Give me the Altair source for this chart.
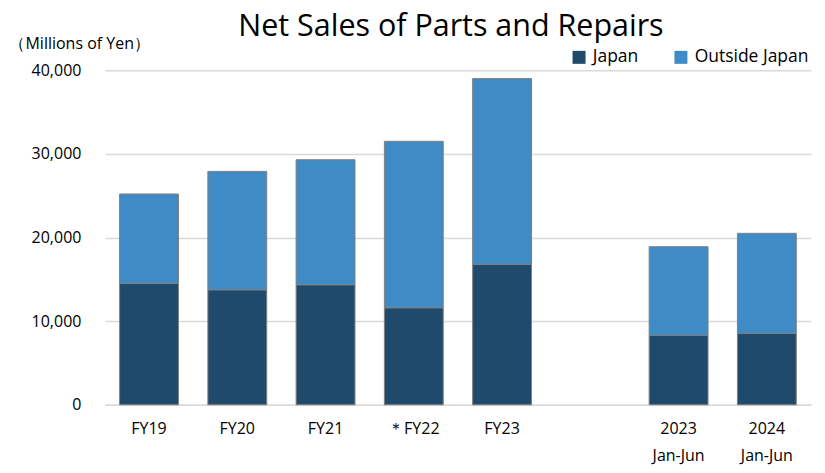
import altair as alt
import pandas as pd

categories = ["FY19", "FY20", "FY21", "＊FY22", "FY23", " ", "2023\nJan-Jun", "2024\nJan-Jun"]
japan = [14500, 13750, 14350, 11600, 16800, None, 8300, 8550]
outside = [10700, 14150, 14950, 19900, 22200, None, 10600, 11950]
series = ["Japan", "Outside Japan"]
colors = ["#204a6c", "#3e8bc6"]
y_ticks = [0, 10000, 20000, 30000, 40000]

rows = []
for c, j, o in zip(categories, japan, outside):
    if j is None:
        continue
    rows.append({"cat": c, "series": series[0], "value": j, "ord": 0})
    rows.append({"cat": c, "series": series[1], "value": o, "ord": 1})
df = pd.DataFrame(rows)

FONT = "Open Sans"

chart = alt.Chart(df).mark_bar(stroke="#808080", strokeWidth=1).encode(
    x=alt.X("cat:N", sort=categories,
            scale=alt.Scale(domain=categories, paddingInner=0.333, paddingOuter=0.1667),
            axis=alt.Axis(title=None, labelAngle=0, domain=True, domainColor="#d9d9d9",
                          domainWidth=1.5, ticks=False, labelFontSize=16, labelColor="#000000",
                          labelFont=FONT, labelPadding=16, labelLineHeight=27,
                          labelExpr="split(datum.label, '\\n')")),
    y=alt.Y("value:Q", stack="zero",
            scale=alt.Scale(domain=[0, 40000], nice=False),
            axis=alt.Axis(values=y_ticks, format=",.0f", domain=False, ticks=False,
                          labelFontSize=16, labelColor="#000000", labelFont=FONT,
                          labelPadding=24, gridColor="#d9d9d9", gridWidth=1.5,
                          title="（Millions of Yen）", titleAngle=0, titleAlign="left",
                          titleBaseline="middle", titleX=-96, titleY=-27,
                          titleFontSize=16, titleFontWeight="normal", titleFont=FONT,
                          titleColor="#000000")),
    color=alt.Color("series:N", scale=alt.Scale(domain=series, range=colors),
                    legend=alt.Legend(title=None, orient="none", direction="horizontal",
                                      legendX=466, legendY=-22, symbolType="square",
                                      symbolSize=169, symbolStrokeWidth=0,
                                      labelFontSize=17.5, labelFont=FONT, labelColor="#000000",
                                      labelOffset=5, columnPadding=33, padding=0)),
    order=alt.Order("ord:Q", sort="ascending"),
).properties(
    width=707, height=335,
    title=alt.TitleParams("Net Sales of Parts and Repairs", fontSize=30.5, fontWeight="normal",
                          font=FONT, color="#000000", anchor="middle", dx=-7, dy=7, offset=0),
    autosize=alt.AutoSizeParams(type="none"),
    padding={"left": 97, "top": 62, "right": 6, "bottom": 60},
).configure_view(stroke=None)

chart.save("out.html", embed_options={"renderer": "svg", "actions": False})
